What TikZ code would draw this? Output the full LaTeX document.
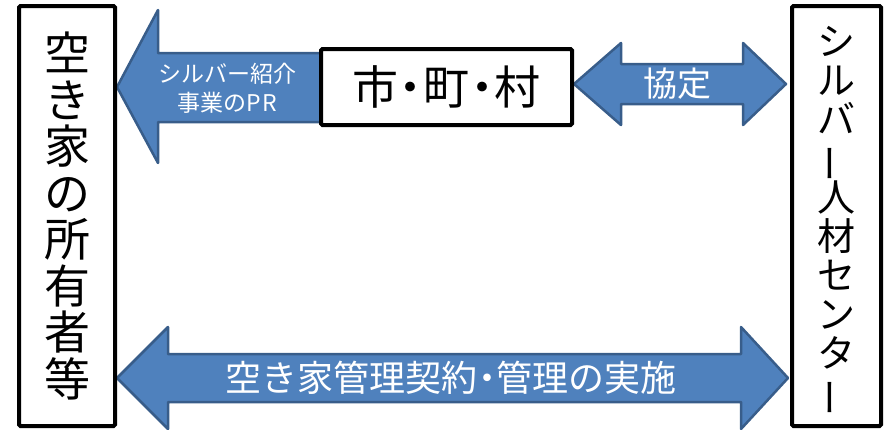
\documentclass[tikz,border=0pt]{standalone}
\usepackage{fontspec}
\setmainfont{Noto Sans CJK JP}
\usetikzlibrary{backgrounds}

\definecolor{arrowfill}{HTML}{4F81BD}
\definecolor{arrowline}{HTML}{385D8A}

\newcommand{\nakaguro}{\makebox[0.55em][c]{・}}
\newcommand{\tatebo}{\smash{\rotatebox[origin=c]{90}{ー}}}

\tikzset{
  framebox/.style={draw, line width=4pt, rounded corners=1.5pt, fill=white, align=center, inner sep=0pt},
  blockarrow/.style={fill=arrowfill, draw=arrowline, line width=2.5pt, line join=round},
  arrowlabel/.style={text=white, align=center, inner sep=0pt},
}

\begin{document}
\begin{tikzpicture}[x=1pt, y=-1pt]
\useasboundingbox (0,0) rectangle (888,429);

% boxes
\node[framebox, minimum width=96pt, minimum height=420pt, font=\fontsize{46}{46.5}\selectfont] (owner) at (67,216) {空\\き\\家\\の\\所\\有\\者\\等};
\node[framebox, minimum width=89pt, minimum height=420pt, font=\fontsize{38}{39}\selectfont] (silver) at (836.5,216) {シ\\ル\\バ\\\tatebo\\人\\材\\セ\\ン\\タ\\\tatebo};
\node[framebox, minimum width=251pt, minimum height=76pt, font=\fontsize{46}{48}\selectfont] (city) at (446.5,87) {市\nakaguro 町\nakaguro 村};

% labels
\node[arrowlabel, font=\fontsize{23}{29}\selectfont] (pr) at (227,88) {シルバー紹介\\事業のP\hspace{0.08em}R};
\node[arrowlabel, font=\fontsize{34}{36}\selectfont] (pact) at (677,84) {協定};
\node[arrowlabel, font=\fontsize{36}{38}\selectfont] (manage) at (451,378) {空き家管理契約\nakaguro 管理の実施};

% arrows
\begin{scope}[on background layer]
\draw[blockarrow] (owner.east |- city.west) -- ++(41,-77) -- ++(0,43) -- ++(165,0) -- ++(0,69) -- ++(-165,0) -- ++(0,41) -- cycle;
\draw[blockarrow] ([yshift=3pt]city.east) -- ++(47,-41) -- ++(0,21) -- ++(122,0) -- ++(0,-21) -- ++(43,41) -- ++(-43,41) -- ++(0,-21) -- ++(-122,0) -- ++(0,21) -- cycle;
\draw[blockarrow] (owner.east |- manage.center) -- ++(51,-51) -- ++(0,27) -- ++(573,0) -- ++(0,-27) -- ++(47,51) -- ++(-47,51) -- ++(0,-27) -- ++(-573,0) -- ++(0,27) -- cycle;
\end{scope}
\end{tikzpicture}
\end{document}
